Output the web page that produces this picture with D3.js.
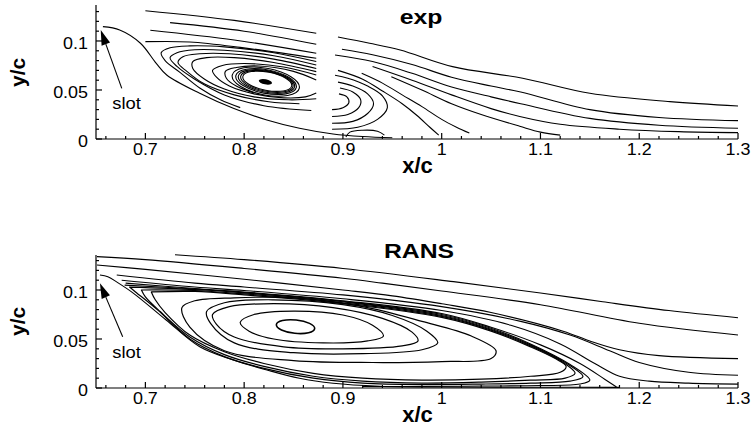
<!DOCTYPE html>
<html><head><meta charset="utf-8">
<script src="https://cdn.jsdelivr.net/npm/d3@7"></script>
<style>
body{margin:0;background:#fff}
svg{display:block}
text{font-family:"Liberation Sans",Arial,Helvetica,sans-serif;fill:#000}
</style>
</head><body>
<svg id="chart" width="752" height="428"></svg>
<script>
// ---------------- tick data ----------------
const xTicks = [0.7, 0.8, 0.9, 1, 1.1, 1.2, 1.3];
const xTickLabels = ["0.7", "0.8", "0.9", "1", "1.1", "1.2", "1.3"];
const yTicks = [0, 0.05, 0.1];
const yTickLabels = ["0", "0.05", "0.1"];
const xMinorTicks = d3.range(33, 66).map(i => +(i * 0.02).toFixed(2));
const yMinorTicks = d3.range(1, 14).map(i => +(i * 0.01).toFixed(2));
const titles = ["exp", "RANS"];
const xLabel = "x/c", yLabel = "y/c", slotLabel = "slot";

// ---------------- exp streamlines (x/c, y/c) ----------------
const expSlotLine = [[0.657,0.1146],[0.674,0.1112],[0.695,0.0977],[0.711,0.0772],[0.7216,0.0653],[0.755,0.0466],[0.789,0.0313],[0.823,0.0194],[0.856,0.0109],[0.890,0.0051],[0.92,0.0025],[0.95,0.0012]];
const expFreeLeft = [
  [[0.700,0.1309],[0.79,0.121],[0.873,0.1078]],
  [[0.725,0.1187],[0.80,0.110],[0.873,0.0966]],
  [[0.705,0.111],[0.79,0.101],[0.873,0.0874]],
  [[0.700,0.0993],[0.745,0.0990],[0.796,0.0935],[0.873,0.0823]]
];
const expCurlsLeft = [
  [[0.873,0.079],[0.83,0.088],[0.78,0.094],[0.745,0.095],[0.725,0.093],[0.716,0.088],[0.72,0.080],[0.735,0.068],[0.755,0.052],[0.776,0.040],[0.796,0.032]],
  [[0.873,0.0755],[0.83,0.085],[0.78,0.0905],[0.75,0.091],[0.732,0.088],[0.725,0.083],[0.732,0.074],[0.75,0.061],[0.78,0.045],[0.82,0.034],[0.868,0.029]],
  [[0.873,0.072],[0.83,0.0815],[0.785,0.087],[0.755,0.087],[0.738,0.084],[0.733,0.078],[0.742,0.069],[0.76,0.056],[0.79,0.045],[0.825,0.038],[0.856,0.036]],
  [[0.873,0.0687],[0.83,0.078],[0.79,0.083],[0.762,0.083],[0.748,0.079],[0.748,0.072],[0.76,0.061],[0.78,0.051],[0.81,0.043],[0.845,0.040],[0.873,0.041]],
  [[0.873,0.0653],[0.84,0.0735],[0.80,0.077],[0.778,0.075],[0.768,0.070],[0.772,0.063],[0.785,0.054],[0.81,0.046],[0.84,0.042],[0.862,0.043],[0.873,0.047]],
  [[0.873,0.0602],[0.85,0.069],[0.815,0.0745],[0.792,0.073],[0.781,0.069],[0.782,0.062],[0.792,0.054],[0.81,0.047]]
];
// closed rings: [cx, cy, rx, ry, tilt(deg)]
const expRings = [
  [0.8219,0.0585,0.0346,0.0136,11],
  [0.8222,0.0586,0.0312,0.0120,11],
  [0.8226,0.0587,0.0290,0.0110,11],
  [0.8230,0.0588,0.0270,0.0101,11],
  [0.8234,0.0589,0.0252,0.0093,11]
];
const expCore = [[0.8215,0.0583,0.0068,0.0026,11]];
const expFreeRight = [
  [[0.895,0.104],[0.927,0.0977],[0.958,0.0908],[1.011,0.0738],[1.082,0.062],[1.15,0.0466],[1.231,0.0381],[1.30,0.0337]],
  [[0.899,0.0915],[0.93,0.086],[0.97,0.076],[1.01,0.063],[1.05,0.054],[1.08,0.048],[1.15,0.030],[1.22,0.022],[1.30,0.0187]],
  [[0.892,0.0857],[0.93,0.079],[0.97,0.067],[1.01,0.053],[1.05,0.043],[1.08,0.036],[1.15,0.021],[1.22,0.014],[1.30,0.0109]],
  [[0.93,0.074],[0.97,0.060],[1.01,0.045],[1.05,0.031],[1.079,0.023],[1.12,0.015],[1.18,0.010],[1.24,0.0075],[1.30,0.0065]],
  [[0.949,0.0636],[0.98,0.050],[1.01,0.036],[1.04,0.025],[1.079,0.013],[1.10,0.007],[1.12,0.004]],
  [[0.919,0.067],[0.94,0.057],[0.96,0.045],[0.98,0.033],[1.00,0.020],[1.015,0.012],[1.028,0.006]],
  [[0.895,0.070],[0.92,0.061],[0.94,0.049],[0.96,0.036],[0.975,0.024],[0.988,0.012],[0.997,0.004]]
];
const expArcsRight = [
  [[0.889,0.010],[0.915,0.012],[0.935,0.020],[0.945,0.032],[0.94,0.044],[0.925,0.054],[0.905,0.062],[0.892,0.065]],
  [[0.889,0.016],[0.91,0.018],[0.925,0.026],[0.931,0.036],[0.925,0.046],[0.91,0.054],[0.895,0.058]],
  [[0.889,0.023],[0.905,0.025],[0.916,0.032],[0.918,0.040],[0.91,0.048],[0.897,0.052]],
  [[0.889,0.030],[0.90,0.032],[0.906,0.037],[0.904,0.043],[0.896,0.046]],
  [[0.903,0.002],[0.907,0.007],[0.92,0.009],[0.935,0.008],[0.942,0.004]]
];

// ---------------- RANS streamlines ----------------
const ransSlotLine = [[0.654,0.1153],[0.662,0.1135],[0.672,0.1075],[0.688,0.0966],[0.721,0.0694],[0.755,0.0421],[0.789,0.0286],[0.823,0.0184],[0.856,0.0099],[0.890,0.0048],[0.937,0.0018],[1.0,0.0010],[1.1,0.0008],[1.18,0.0006]];
const ransFree = [
  [[0.73,0.136],[0.80,0.131],[0.90,0.122],[1.012,0.1085],[1.10,0.097],[1.163,0.088],[1.23,0.079],[1.30,0.0717]],
  [[0.651,0.134],[0.70,0.131],[0.80,0.122],[0.90,0.112],[0.94,0.107],[1.00,0.099],[1.10,0.085],[1.20,0.066],[1.30,0.054]],
  [[0.651,0.1255],[0.70,0.121],[0.80,0.111],[0.90,0.100],[0.95,0.094],[1.00,0.086],[1.05,0.077],[1.123,0.058],[1.15,0.048],[1.18,0.039],[1.22,0.033],[1.30,0.030]],
  [[0.671,0.1153],[0.75,0.107],[0.80,0.103],[0.90,0.095],[1.00,0.083],[1.08,0.068],[1.13,0.054],[1.17,0.038],[1.20,0.026],[1.25,0.016],[1.30,0.013]],
  [[0.676,0.110],[0.75,0.103],[0.80,0.0995],[0.90,0.091],[1.00,0.079],[1.07,0.064],[1.12,0.045],[1.155,0.025],[1.18,0.012],[1.21,0.007],[1.25,0.005],[1.30,0.004]],
  [[0.680,0.107],[0.75,0.1015],[0.80,0.098],[0.90,0.089],[1.00,0.076],[1.05,0.062],[1.10,0.044],[1.14,0.025],[1.165,0.009],[1.177,0.001]],
  [[0.679,0.105],[0.75,0.101],[0.80,0.0975],[0.90,0.0885],[1.00,0.075],[1.05,0.061],[1.09,0.045],[1.13,0.024],[1.15,0.008],[1.14,0.004],[1.10,0.0025],[1.04,0.002],[0.98,0.0015],[0.92,0.0015]]
];
const ransHairpins = [
  [[0.684,0.103],[0.75,0.1005],[0.80,0.097],[0.90,0.088],[1.00,0.074],[1.05,0.060],[1.09,0.044],[1.125,0.026],[1.143,0.0116],[1.13,0.007],[1.09,0.005],[1.04,0.004],[0.98,0.0035],[0.92,0.005],[0.87,0.010],[0.82,0.020],[0.78,0.032],[0.745,0.050],[0.712,0.080],[0.69,0.098],[0.684,0.103]],
  [[0.696,0.100],[0.75,0.0995],[0.80,0.096],[0.90,0.087],[1.00,0.073],[1.05,0.059],[1.09,0.043],[1.12,0.028],[1.135,0.015],[1.125,0.010],[1.09,0.008],[1.04,0.006],[0.98,0.005],[0.92,0.007],[0.87,0.012],[0.82,0.022],[0.78,0.034],[0.745,0.052],[0.715,0.078],[0.700,0.093],[0.696,0.100]],
  [[0.706,0.098],[0.75,0.0985],[0.80,0.095],[0.90,0.086],[1.00,0.072],[1.05,0.058],[1.09,0.042],[1.115,0.030],[1.126,0.022],[1.12,0.016],[1.09,0.012],[1.04,0.009],[0.98,0.008],[0.92,0.010],[0.87,0.015],[0.82,0.025],[0.78,0.037],[0.745,0.054],[0.72,0.077],[0.710,0.090],[0.706,0.098]]
];
const ransLoops = [
  [[0.737,0.082],[0.75,0.089],[0.79,0.092],[0.85,0.092],[0.92,0.083],[0.98,0.068],[1.03,0.053],[1.055,0.038],[1.05,0.030],[1.00,0.027],[0.93,0.026],[0.85,0.028],[0.78,0.038],[0.745,0.062]],
  [[0.762,0.078],[0.78,0.087],[0.83,0.090],[0.90,0.085],[0.95,0.074],[0.985,0.058],[0.996,0.046],[0.98,0.039],[0.92,0.035],[0.85,0.036],[0.79,0.046],[0.766,0.066]],
  [[0.768,0.075],[0.785,0.083],[0.83,0.086],[0.89,0.082],[0.94,0.071],[0.97,0.057],[0.976,0.048],[0.96,0.043],[0.90,0.040],[0.84,0.042],[0.79,0.052],[0.772,0.065]],
  [[0.796,0.067],[0.81,0.075],[0.85,0.0785],[0.90,0.0745],[0.93,0.064],[0.941,0.053],[0.925,0.048],[0.88,0.046],[0.83,0.050],[0.805,0.058]]
];
const ransRings = [[0.852,0.0626,0.0195,0.0068,6]];

// annotation anchors (data units)
const slotArrowExp = {tail:[0.6761,0.0517], tip:[0.6548,0.1112]};
const slotArrowRans = {tail:[0.677,0.0523], tip:[0.654,0.1068]};
const slotTextPos = [0.681, 0.0306];

// ---------------- drawing ----------------
const svg = d3.select("#chart");
const x = d3.scaleLinear().domain([0.65, 1.3]).range([96, 738]);

const panels = [
  {title: titles[0], yRange: [139, 5], yMax: 0.1367, titleX: 421, titleY: 24,
   open: [expSlotLine, ...expFreeLeft, ...expCurlsLeft, ...expFreeRight, ...expArcsRight],
   closed: [], rings: expRings, cores: expCore, arrow: slotArrowExp, ringW: 1.1},
  {title: titles[1], yRange: [388, 255], yMax: 0.1357, titleX: 419, titleY: 258,
   open: [ransSlotLine, ...ransFree],
   closed: [...ransHairpins, ...ransLoops], rings: ransRings, cores: [], arrow: slotArrowRans, ringW: 1.6}
];

function stretchedText(g, px, py, str, size, weight, sx, anchor) {
  const t = g.append("g").attr("transform", `translate(${px},${py}) scale(${sx},1)`);
  t.append("text").attr("text-anchor", anchor).attr("font-size", size)
    .attr("font-weight", weight).text(str);
  return t;
}

panels.forEach(p => {
  const y = d3.scaleLinear().domain([0, p.yMax]).range(p.yRange);
  const g = svg.append("g");
  const y0 = y(0);

  const lineGen = d3.line().x(d => x(d[0])).y(d => y(d[1])).curve(d3.curveCatmullRom.alpha(0.5));
  const closedGen = d3.line().x(d => x(d[0])).y(d => y(d[1])).curve(d3.curveCatmullRomClosed.alpha(0.5));

  const sl = g.append("g").attr("fill", "none").attr("stroke", "#000").attr("stroke-linejoin", "round");
  sl.selectAll("path.o").data(p.open).join("path").attr("class", "o")
    .attr("d", lineGen).attr("stroke-width", 1.1);
  sl.selectAll("path.c").data(p.closed).join("path").attr("class", "c")
    .attr("d", closedGen).attr("stroke-width", 1.2);
  sl.selectAll("ellipse.r").data(p.rings).join("ellipse").attr("class", "r")
    .attr("cx", d => x(d[0])).attr("cy", d => y(d[1]))
    .attr("rx", d => x(d[0] + d[2]) - x(d[0])).attr("ry", d => y(d[1]) - y(d[1] + d[3]))
    .attr("transform", d => `rotate(${d[4]},${x(d[0])},${y(d[1])})`)
    .attr("stroke-width", p.ringW);
  g.selectAll("ellipse.k").data(p.cores).join("ellipse").attr("class", "k")
    .attr("cx", d => x(d[0])).attr("cy", d => y(d[1]))
    .attr("rx", d => x(d[0] + d[2]) - x(d[0])).attr("ry", d => y(d[1]) - y(d[1] + d[3]))
    .attr("transform", d => `rotate(${d[4]},${x(d[0])},${y(d[1])})`)
    .attr("fill", "#000");

  // axes
  const ax = g.append("g").attr("stroke", "#000").attr("stroke-width", 1.2);
  ax.append("line").attr("x1", x(0.65)).attr("x2", x(1.3)).attr("y1", y0).attr("y2", y0);
  ax.append("line").attr("x1", x(0.65)).attr("x2", x(0.65)).attr("y1", y0).attr("y2", y(p.yMax));
  ax.selectAll("line.xm").data(xTicks).join("line").attr("class", "xm")
    .attr("x1", d => x(d)).attr("x2", d => x(d)).attr("y1", y0).attr("y2", y0 - 6);
  ax.selectAll("line.xn").data(xMinorTicks.filter(v => !xTicks.some(t => Math.abs(t - v) < 1e-6))).join("line").attr("class", "xn")
    .attr("x1", d => x(d)).attr("x2", d => x(d)).attr("y1", y0).attr("y2", y0 - 3);
  ax.selectAll("line.ym").data(yTicks).join("line").attr("class", "ym")
    .attr("x1", x(0.65)).attr("x2", x(0.65) + 6).attr("y1", d => y(d)).attr("y2", d => y(d));
  ax.selectAll("line.yn").data(yMinorTicks.filter(v => !yTicks.some(t => Math.abs(t - v) < 1e-6))).join("line").attr("class", "yn")
    .attr("x1", x(0.65)).attr("x2", x(0.65) + 3).attr("y1", d => y(d)).attr("y2", d => y(d));

  xTicks.forEach((v, i) => stretchedText(g, x(v), y0 + 16, xTickLabels[i], 16, "normal", 1.12, "middle"));
  yTicks.forEach((v, i) => stretchedText(g, 88, y(v) + 7.6, yTickLabels[i], 16, "normal", 1.12, "end"));

  // axis titles
  g.append("text").attr("x", 417.5).attr("y", y0 + 34).attr("text-anchor", "middle")
    .attr("font-size", 22).attr("font-weight", "bold").text(xLabel);
  g.append("text").attr("transform", `translate(25,${y(0.068)}) rotate(-90)`).attr("text-anchor", "middle")
    .attr("font-size", 21).attr("font-weight", "bold").text(yLabel);

  // panel title
  stretchedText(g, p.titleX, p.titleY, p.title, 21, "bold", 1.18, "middle");

  // slot arrow
  const a = p.arrow;
  const tx = x(a.tail[0]), ty = y(a.tail[1]), hx = x(a.tip[0]), hy = y(a.tip[1]);
  const ang = Math.atan2(hy - ty, hx - tx);
  const L = 15, W = 4.5;
  const bx = hx - L * Math.cos(ang), by = hy - L * Math.sin(ang);
  g.append("line").attr("x1", tx).attr("y1", ty).attr("x2", bx).attr("y2", by)
    .attr("stroke", "#000").attr("stroke-width", 1.1);
  g.append("path").attr("d",
    `M${hx},${hy}L${bx + W * Math.sin(ang)},${by - W * Math.cos(ang)}L${bx - W * Math.sin(ang)},${by + W * Math.cos(ang)}Z`)
    .attr("fill", "#000");
  stretchedText(g, x(slotTextPos[0]), y(slotTextPos[1]), slotLabel, 16, "normal", 1.15, "middle");
});
</script>
</body></html>
